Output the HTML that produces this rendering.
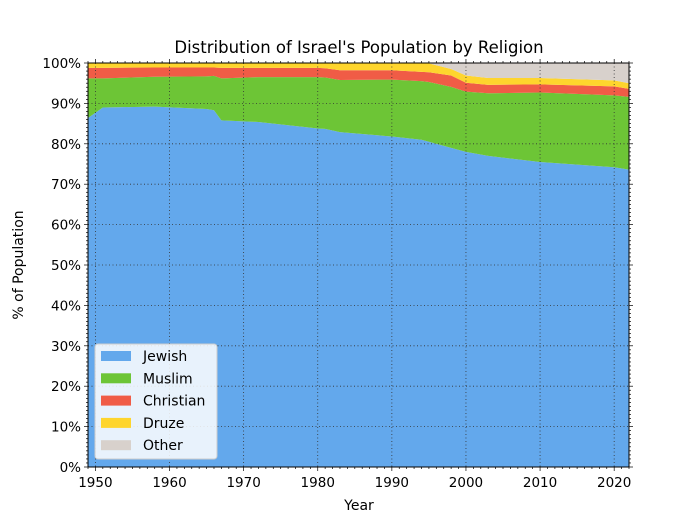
<!DOCTYPE html>
<html><head><meta charset="utf-8"><style>
body{margin:0;background:#fff}
svg{display:block;font-family:"DejaVu Sans","Liberation Sans",sans-serif}
</style></head><body>
<svg id="chart" width="700" height="526" viewBox="0 0 700 526">
<text x="359" y="53" font-size="16.5" text-anchor="middle">Distribution of Israel's Population by Religion</text>
<g id="areas"></g><g id="grid"></g><g id="axes"></g>
<text x="359" y="510" font-size="14" text-anchor="middle">Year</text>
<text transform="translate(23,265) rotate(-90)" font-size="14" text-anchor="middle">% of Population</text>
<g id="legend"></g>
</svg>
<script>
const years=[1949,1951,1958,1965,1966,1967,1972,1980,1981,1983,1990,1994,1995,1998,2000,2003,2010,2020,2022];
const jewish=[86.4,89.0,89.2,88.6,88.3,85.8,85.4,83.8,83.7,82.9,81.8,81.0,80.5,79.0,78.0,77.0,75.5,74.2,73.6];
const muslim=[9.8,7.2,7.4,8.1,8.5,10.4,11.1,12.7,12.7,12.9,14.1,14.5,14.8,15.1,14.9,15.5,17.2,17.8,18.0];
const christian=[2.6,2.6,2.3,2.2,2.1,2.6,2.3,2.3,2.3,2.4,2.3,2.3,2.4,2.8,2.2,2.1,2.0,2.2,2.0];
const druze=[1.2,1.2,1.1,1.1,1.1,1.2,1.2,1.2,1.3,1.8,1.8,2.2,2.2,1.6,1.8,1.7,1.6,1.5,1.4];
const other=[0,0,0,0,0,0,0,0,0,0,0,0,0.1,1.5,3.1,3.7,3.7,4.3,5.0];
const names=["Jewish","Muslim","Christian","Druze","Other"];
const colors=["#63a8ec","#6dc536","#f05c46","#fed52d","#d8d1cc"];
const yTicks=[0,10,20,30,40,50,60,70,80,90,100];
const xTicks=[1950,1960,1970,1980,1990,2000,2010,2020];
const L=88,R=629,T=63,B=467,X0=1949,X1=2022;
const sx=v=>L+(v-X0)/(X1-X0)*(R-L);
const sy=v=>B-v/100*(B-T);
const NS="http://www.w3.org/2000/svg";
function mk(t,a,p){const e=document.createElementNS(NS,t);for(const k in a)e.setAttribute(k,a[k]);p.appendChild(e);return e;}
const series=[jewish,muslim,christian,druze,other];
const areas=document.getElementById('areas');
let base=years.map(()=>0);
series.forEach((s,i)=>{
  const top=base.map((b,j)=>b+s[j]);
  let pts=years.map((y,j)=>sx(y)+','+sy(i==4?100:top[j]));
  for(let j=years.length-1;j>=0;j--)pts.push(sx(years[j])+','+sy(base[j]));
  const p=mk('polygon',{points:pts.join(' '),fill:colors[i]},areas);
  
  
  base=top;
});
const grid=document.getElementById('grid');
yTicks.forEach(v=>{if(v>0&&v<100){const l=mk('line',{x1:L,x2:R,y1:sy(v),y2:sy(v),stroke:'#333','stroke-width':0.8,'stroke-dasharray':'1,2.5'},grid);

}});
xTicks.forEach(v=>{const l=mk('line',{x1:sx(v),x2:sx(v),y1:T,y2:B,stroke:'#333','stroke-width':0.8,'stroke-dasharray':'1,2.5'},grid);

});
const ax=document.getElementById('axes');
const fr=mk('rect',{x:L,y:T,width:R-L,height:B-T,fill:'none',stroke:'#000','stroke-width':1},ax);


for(let v=0;v<=100;v++){const w=v%10==0?4:2;mk('line',{x1:L-w,x2:L,y1:sy(v),y2:sy(v),stroke:'#000','stroke-width':0.7},ax);mk('line',{x1:R,x2:R+w,y1:sy(v),y2:sy(v),stroke:'#000','stroke-width':0.7},ax);}
for(let v=X0;v<=X1;v++){const w=v%10==0?4:2;mk('line',{x1:sx(v),x2:sx(v),y1:B,y2:B+w,stroke:'#000','stroke-width':0.7},ax);mk('line',{x1:sx(v),x2:sx(v),y1:T-w,y2:T,stroke:'#000','stroke-width':0.7},ax);}
yTicks.forEach(v=>{const t=mk('text',{x:L-7,y:sy(v)+5,'font-size':13.5,'text-anchor':'end'},ax);t.textContent=v+'%';

});
xTicks.forEach(v=>{const t=mk('text',{x:sx(v),y:B+20,'font-size':13.5,'text-anchor':'middle'},ax);t.textContent=v;

});
const lg=document.getElementById('legend');


mk('rect',{x:95,y:344,width:122,height:115,rx:3,fill:'#fff','fill-opacity':0.85,stroke:'#ccc'},lg);
names.forEach((n,i)=>{const g=mk('g',{},lg);


const y=356+i*22.3;
mk('rect',{x:101,y:y-5,width:30,height:10,fill:colors[i]},g);
const t=mk('text',{x:143,y:y+5,'font-size':14},g);t.textContent=n;});
</script>
</body></html>
